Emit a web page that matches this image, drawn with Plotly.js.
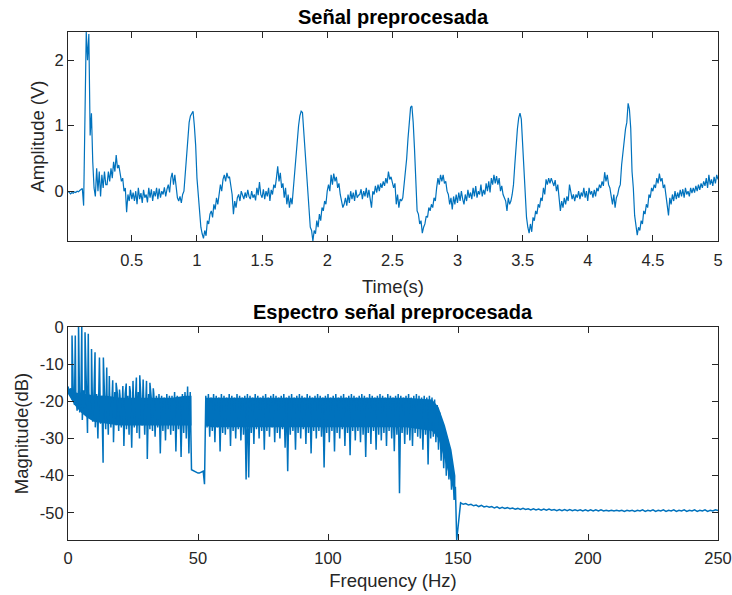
<!DOCTYPE html>
<html>
<head>
<meta charset="utf-8">
<script src="https://cdn.plot.ly/plotly-3.0.1.min.js"></script>
<style>
  html, body { margin: 0; padding: 0; background: #ffffff; }
  #chart { width: 732px; height: 595px; }
</style>
</head>
<body>
<div id="chart"></div>
<script>
// ---- Preprocessed ECG signal, one sample every 10 ms (t = 0.01 ... 5.00 s) ----
const sampleStepS = 0.01;
const signalV = [
   0.00,-0.03,-0.04,-0.02,-0.03,-0.01,-0.02, 0.00,-0.01, 0.01,
   0.02, 0.04,-0.22, 1.20, 2.43, 2.00, 2.40, 0.85, 1.19, 0.45,
   0.05,-0.08, 0.35, 0.00, 0.30,-0.08, 0.25, 0.05, 0.30, 0.10,
   0.10, 0.30, 0.15, 0.35, 0.20, 0.45, 0.30, 0.55, 0.35, 0.40,
   0.30, 0.15, 0.20, 0.00, 0.05,-0.32,-0.05,-0.15, 0.02,-0.12,
  -0.02,-0.15, 0.00,-0.20, 0.05,-0.12,-0.03,-0.18, 0.02,-0.10,
  -0.05,-0.17, 0.05,-0.10, 0.03,-0.15, 0.00,-0.08, 0.05,-0.12,
   0.04,-0.10, 0.00,-0.05, 0.06,-0.08, 0.03, 0.10,-0.02, 0.20,
   0.28, 0.10, 0.25, 0.05,-0.10,-0.15,-0.08,-0.18,-0.05, 0.00,
   0.30, 0.60, 0.90, 1.05, 1.15, 1.20, 1.22, 1.00, 0.70, 0.20,
  -0.10,-0.30,-0.55,-0.65,-0.72,-0.60,-0.68,-0.45,-0.50,-0.35,
  -0.30,-0.40,-0.20,-0.28,-0.10,-0.20,-0.02, 0.10, 0.00, 0.18,
   0.25, 0.15, 0.28, 0.20, 0.22, 0.05,-0.05,-0.35,-0.15,-0.25,
  -0.10,-0.05,-0.15, 0.00,-0.08,-0.12,-0.02,-0.10, 0.02,-0.08,
  -0.12, 0.00,-0.10,-0.05,-0.14, 0.05,-0.06, 0.14,-0.05,-0.10,
   0.03,-0.12, 0.00,-0.08, 0.05,-0.15, 0.02,-0.05, 0.10, 0.05,
   0.20, 0.38, 0.15, 0.28, 0.05, 0.12,-0.10, 0.05,-0.20,-0.05,
  -0.25,-0.10,-0.20, 0.05, 0.30, 0.60, 0.85, 1.00, 1.15, 1.22,
   1.20, 0.90, 0.60, 0.20,-0.10,-0.35,-0.55,-0.60,-0.76,-0.60,
  -0.65,-0.45,-0.55,-0.35,-0.45,-0.25,-0.30,-0.15,-0.20, 0.00,
   0.10, 0.00, 0.25, 0.10, 0.27, 0.15, 0.22, 0.05, 0.12,-0.05,
  -0.15,-0.25,-0.20,-0.10,-0.22,-0.05,-0.18, 0.00,-0.12,-0.02,
  -0.15, 0.02,-0.10,-0.06,-0.05, 0.03,-0.12, 0.00,-0.08, 0.05,
  -0.10, 0.02,-0.12,-0.25, 0.00,-0.05, 0.08,-0.02, 0.10, 0.00,
   0.12, 0.05, 0.15, 0.08, 0.20, 0.12, 0.30, 0.18, 0.22, 0.15,
   0.05, 0.12,-0.20,-0.05,-0.25,-0.12,-0.15,-0.10, 0.10, 0.20,
   0.50, 0.80, 1.10, 1.28, 1.30, 1.05, 0.65, 0.20,-0.30,-0.35,
  -0.50,-0.45,-0.64,-0.55,-0.50,-0.38,-0.40,-0.25,-0.30,-0.20,
  -0.25,-0.10,-0.15, 0.05, 0.20, 0.10, 0.25, 0.15, 0.25, 0.12,
   0.15, 0.00,-0.05,-0.20,-0.10,-0.28,-0.08,-0.20,-0.05,-0.18,
  -0.02,-0.15, 0.00,-0.12,-0.20,-0.05,-0.15, 0.02,-0.10,-0.02,
  -0.12, 0.05,-0.08, 0.08,-0.10, 0.00,-0.05, 0.10,-0.08, 0.02,
  -0.05, 0.12, 0.00, 0.15,-0.02, 0.20, 0.10, 0.25, 0.12, 0.23,
   0.10, 0.20, 0.00, 0.08,-0.05,-0.10,-0.15,-0.30,-0.10,-0.20,
  -0.15,-0.05, 0.10, 0.40, 0.70, 0.95, 1.12, 1.19, 1.10, 0.70,
   0.30,-0.05,-0.40,-0.55,-0.64,-0.50,-0.62,-0.40,-0.45,-0.30,
  -0.35,-0.20,-0.25,-0.10,-0.15, 0.05,-0.05, 0.18, 0.10, 0.20,
   0.12, 0.20, 0.15, 0.08, 0.17, 0.00, 0.10,-0.15,-0.30,-0.15,
  -0.25,-0.10,-0.20,-0.08,-0.15, 0.10,-0.05,-0.12,-0.05,-0.15,
  -0.05,-0.10, 0.00,-0.12,-0.02,-0.08, 0.05,-0.10, 0.00,-0.15,
   0.05,-0.05, 0.00,-0.10, 0.02,-0.08, 0.05, 0.00, 0.10, 0.05,
   0.15, 0.08, 0.29, 0.15, 0.25, 0.10, 0.05,-0.05,-0.20,-0.05,
  -0.25,-0.10,-0.05, 0.05, 0.10, 0.40, 0.60, 0.70, 0.95, 1.05,
   1.34, 1.25, 0.96, 0.30, 0.05,-0.37,-0.55,-0.67,-0.55,-0.60,
  -0.45,-0.50,-0.30,-0.35,-0.20,-0.25,-0.05,-0.10, 0.05, 0.00,
   0.10, 0.05, 0.20, 0.12, 0.27, 0.15, 0.20, 0.05, 0.10,-0.05,
  -0.20,-0.37,-0.10,-0.20,-0.05,-0.15, 0.00,-0.12,-0.02,-0.10,
   0.02,-0.08, 0.03,-0.10, 0.05,-0.05, 0.00,-0.08, 0.05,-0.03,
   0.05,-0.02, 0.08, 0.00, 0.10, 0.02, 0.12, 0.05, 0.15, 0.08,
   0.20, 0.05, 0.25, 0.10, 0.18, 0.08, 0.22, 0.12, 0.25, 0.18
];

// ---- Magnitude spectrum (dB) ----
// Broadband part, every 0.5 Hz from 0 to 149.5 Hz (alternating crest / trough of the noise floor)
const bandStepHz = 0.5;
const bandDb = [
  -16.0,-17.5,-16.5,-19.5,-17.0,-21.0,-17.5,-22.5,-17.0,-23.0,
  -17.5,-25.0,-17.0,-22.0,-18.0,-28.5,-17.5,-24.0,-18.0,-25.5,
  -17.5,-27.0,-18.0,-30.0,-17.0,-26.0,-18.5,-36.5,-17.5,-27.5,
  -18.0,-29.0,-17.5,-27.0,-18.5,-31.0,-17.5,-26.5,-18.0,-28.0,
  -18.5,-27.0,-17.5,-32.0,-18.0,-27.5,-18.5,-29.0,-17.5,-32.5,
  -18.0,-27.0,-18.5,-28.5,-17.5,-30.0,-18.5,-26.5,-18.0,-29.0,
  -18.5,-35.5,-18.0,-27.5,-19.0,-28.0,-18.0,-29.5,-18.5,-27.0,
  -18.0,-34.0,-18.5,-28.0,-19.0,-30.5,-18.0,-27.5,-18.5,-29.0,
  -18.5,-28.0,-17.5,-33.5,-18.5,-27.5,-19.0,-35.0,-18.0,-28.5,
  -17.5,-30.0,-16.0,-34.0,-17.5,-38.4,-38.6,-38.9,-39.1,-39.2,
  -39.3,-39.3,-39.2,-39.0,-38.8,-42.3,-18.5,-27.0,-18.0,-29.5,
  -19.0,-28.0,-18.0,-31.0,-18.5,-27.0,-19.0,-33.5,-18.0,-28.5,
  -18.5,-29.0,-19.0,-27.5,-18.0,-32.0,-18.5,-28.0,-19.0,-30.0,
  -18.0,-27.5,-18.5,-30.5,-19.0,-29.0,-18.5,-41.0,-18.0,-40.5,
  -18.5,-28.5,-19.0,-31.5,-18.0,-27.5,-18.5,-30.0,-19.0,-28.0,
  -18.5,-33.0,-18.0,-28.0,-19.0,-29.5,-18.5,-27.0,-18.0,-31.0,
  -18.5,-28.5,-19.0,-30.0,-18.5,-27.5,-18.0,-32.5,-19.0,-38.8,
  -18.5,-29.0,-18.0,-28.0,-19.0,-33.0,-18.5,-28.5,-18.0,-30.0,
  -18.5,-27.5,-19.0,-31.5,-18.0,-28.5,-18.5,-34.0,-19.0,-28.0,
  -18.5,-30.0,-18.0,-28.0,-18.5,-29.5,-19.0,-37.8,-18.5,-28.5,
  -18.0,-31.0,-19.0,-28.0,-18.5,-33.5,-18.0,-28.5,-19.0,-30.0,
  -18.5,-27.5,-18.0,-32.0,-19.0,-28.5,-18.5,-34.5,-18.0,-28.0,
  -18.5,-30.5,-19.0,-28.0,-18.5,-31.0,-18.0,-29.0,-18.5,-35.0,
  -19.0,-28.5,-18.0,-31.5,-18.5,-28.0,-19.0,-33.0,-18.5,-29.0,
  -18.0,-30.5,-18.5,-28.5,-19.0,-32.0,-18.0,-28.0,-18.5,-30.0,
  -19.0,-33.4,-18.5,-29.0,-18.0,-44.7,-18.5,-28.5,-19.0,-31.5,
  -18.5,-29.0,-18.0,-30.5,-19.0,-32.0,-18.5,-28.5,-18.0,-29.5,
  -18.5,-30.0,-19.0,-33.0,-18.5,-29.0,-19.0,-37.0,-18.5,-30.0,
  -19.0,-29.5,-19.5,-31.0,-21.0,-33.0,-23.0,-36.0,-25.8,-38.0,
  -27.5,-40.0,-30.3,-41.0,-33.8,-43.8,-38.7,-46.5,-43.0,-57.3
];

// Dense core of the noise floor (where the spectrum lines overlap into a solid band)
const coreLowHz = [0, 2.5, 5, 7.5, 10, 15, 20, 25, 30, 35, 40, 45, 47.5];
const coreLowTopDb = [-16.5, -17.5, -18.0, -18.0, -18.5, -18.5, -19.0, -19.0, -19.0, -19.0, -19.0, -18.5, -18.5];
const coreLowBotDb = [-18.0, -21.0, -23.0, -24.5, -25.5, -26.0, -26.5, -26.5, -26.5, -26.5, -26.5, -26.5, -26.5];
const coreHighHz = [53, 55, 60, 70, 80, 90, 100, 110, 120, 130, 140, 142.5, 145, 147.5, 149];
const coreHighTopDb = [-19.0, -19.0, -19.0, -19.0, -19.0, -19.0, -19.0, -19.0, -19.0, -19.0, -19.5, -21.5, -26.5, -33.0, -40.0];
const coreHighBotDb = [-26.5, -27.0, -27.0, -27.0, -27.0, -27.0, -27.0, -27.0, -27.0, -27.0, -28.0, -30.0, -36.0, -42.0, -45.0];

// Heart-rate harmonics standing above the noise floor at low frequency
const harmonicHz = [1.55, 2.8, 4.05, 5.3, 6.55, 7.8, 9.05, 10.4, 12.1, 13.6, 14.9, 15.9,
                    17.2, 18.5, 19.8, 21.1, 22.4, 23.7, 25.0, 26.3, 27.6, 28.9, 30.2, 31.5, 32.8];
const harmonicDb = [-2.3, -2.3, 1.0, 0.8, -1.4, -1.8, -5.9, -6.8, -8.2, -8.2, -10.9, -13.2,
                    -14.3, -15.0, -16.8, -15.9, -15.2, -15.9, -14.5, -13.6, -13.0, -14.1, -14.5, -15.0, -16.5];

// Stop-band floor above the low-pass cut-off, every 1 Hz from 151 to 250 Hz
const tailStartHz = 151;
const tailStepHz = 1;
const tailDb = [
  -47.3,-47.7,-47.5,-47.9,-47.7,-48.1,-47.9,-48.3,-48.0,-48.4,
  -48.2,-48.5,-48.3,-48.7,-48.4,-48.8,-48.5,-48.8,-48.6,-48.9,
  -48.7,-49.0,-48.8,-49.1,-48.8,-49.1,-48.9,-49.2,-48.9,-49.2,
  -49.0,-49.3,-49.0,-49.3,-49.0,-49.3,-49.1,-49.4,-49.1,-49.4,
  -49.1,-49.4,-49.1,-49.4,-49.2,-49.4,-49.2,-49.5,-49.2,-49.5,
  -49.2,-49.5,-49.2,-49.5,-49.2,-49.5,-49.3,-49.5,-49.3,-49.5,
  -49.3,-49.5,-49.3,-49.6,-49.3,-49.5,-49.3,-49.6,-49.3,-49.5,
  -49.2,-49.6,-49.3,-49.5,-49.2,-49.6,-49.3,-49.5,-49.2,-49.6,
  -49.3,-49.5,-49.2,-49.6,-49.3,-49.5,-49.2,-49.6,-49.3,-49.5,
  -49.2,-49.6,-49.3,-49.5,-49.2,-49.6,-49.3,-49.5,-49.2,-49.4
];

// Tick labels
const timeTickVals = [0.5, 1, 1.5, 2, 2.5, 3, 3.5, 4, 4.5, 5];
const timeTickText = ['0.5', '1', '1.5', '2', '2.5', '3', '3.5', '4', '4.5', '5'];
const ampTickVals = [0, 1, 2];
const ampTickText = ['0', '1', '2'];
const freqTickVals = [0, 50, 100, 150, 200, 250];
const freqTickText = ['0', '50', '100', '150', '200', '250'];
const magTickVals = [-50, -40, -30, -20, -10, 0];
const magTickText = ['-50', '-40', '-30', '-20', '-10', '0'];

// ---- Build traces ----
const timeS = signalV.map((_, i) => (i + 1) * sampleStepS);

const spec = [];
bandDb.forEach((d, i) => spec.push([i * bandStepHz, d]));
harmonicHz.forEach((f, i) => spec.push([f, harmonicDb[i]]));
tailDb.forEach((d, i) => spec.push([tailStartHz + i * tailStepHz, d]));
spec.sort((a, b) => a[0] - b[0]);
const specHz = spec.map(p => p[0]);
const specDb = spec.map(p => p[1]);

const lineBlue = '#0072BD';
const ink = '#262626';
const font = 'Liberation Sans, Arial, Helvetica, sans-serif';

// closed outline (top edge forward, bottom edge back) of a solid band
function bandOutline(hz, top, bot) {
  return {
    x: hz.concat(hz.slice().reverse()),
    y: top.concat(bot.slice().reverse())
  };
}
const coreA = bandOutline(coreLowHz, coreLowTopDb, coreLowBotDb);
const coreB = bandOutline(coreHighHz, coreHighTopDb, coreHighBotDb);

const traces = [
  { x: timeS, y: signalV, type: 'scatter', mode: 'lines',
    line: { color: lineBlue, width: 1.2 }, xaxis: 'x', yaxis: 'y', hoverinfo: 'skip' },
  { x: coreA.x, y: coreA.y, type: 'scatter', mode: 'lines', fill: 'toself',
    fillcolor: lineBlue, line: { width: 0, color: lineBlue }, xaxis: 'x2', yaxis: 'y2', hoverinfo: 'skip' },
  { x: coreB.x, y: coreB.y, type: 'scatter', mode: 'lines', fill: 'toself',
    fillcolor: lineBlue, line: { width: 0, color: lineBlue }, xaxis: 'x2', yaxis: 'y2', hoverinfo: 'skip' },
  { x: specHz, y: specDb, type: 'scatter', mode: 'lines',
    line: { color: lineBlue, width: 1.5 }, xaxis: 'x2', yaxis: 'y2', hoverinfo: 'skip' }
];

const axisBase = {
  showline: true, mirror: 'ticks', linecolor: ink, linewidth: 1,
  ticks: 'inside', ticklen: 6, tickwidth: 1, tickcolor: ink,
  showgrid: false, zeroline: false, fixedrange: true,
  tickfont: { family: font, size: 16.5, color: ink }
};
const labelFont = { family: font, size: 18.5, color: ink };

const layout = {
  width: 732, height: 595,
  paper_bgcolor: '#ffffff', plot_bgcolor: '#ffffff',
  margin: { l: 68, r: 14, t: 32, b: 55 },
  showlegend: false,
  xaxis: Object.assign({}, axisBase, {
    domain: [0, 1], anchor: 'y', range: [0.01, 5], ticklabelstandoff: 4,
    tickmode: 'array', tickvals: timeTickVals, ticktext: timeTickText,
    title: { text: 'Time(s)', font: labelFont, standoff: 12 }
  }),
  yaxis: Object.assign({}, axisBase, {
    domain: [0.5886, 1], anchor: 'x', range: [-0.76, 2.43],
    tickmode: 'array', tickvals: ampTickVals, ticktext: ampTickText,
    title: { text: 'Amplitude (V)', font: labelFont, standoff: 5 }
  }),
  xaxis2: Object.assign({}, axisBase, {
    domain: [0, 1], anchor: 'y2', range: [0, 250], ticklabelstandoff: 3,
    tickmode: 'array', tickvals: freqTickVals, ticktext: freqTickText,
    title: { text: 'Frequency (Hz)', font: labelFont, standoff: 8 }
  }),
  yaxis2: Object.assign({}, axisBase, {
    domain: [0, 0.4193], anchor: 'x2', range: [-57.3, 0],
    tickmode: 'array', tickvals: magTickVals, ticktext: magTickText,
    title: { text: 'Magnitude(dB)', font: labelFont, standoff: 6 }
  }),
  annotations: [
    { text: '<b>Señal preprocesada</b>', xref: 'paper', yref: 'paper',
      x: 0.5, y: 1, yshift: 15, xanchor: 'center', yanchor: 'middle', showarrow: false,
      font: { family: font, size: 20, color: '#000000' } },
    { text: '<b>Espectro señal preprocesada</b>', xref: 'paper', yref: 'paper',
      x: 0.5, y: 0.4193, yshift: 15, xanchor: 'center', yanchor: 'middle', showarrow: false,
      font: { family: font, size: 20, color: '#000000' } }
  ]
};

Plotly.newPlot('chart', traces, layout, { staticPlot: true, displayModeBar: false });
</script>
</body>
</html>
